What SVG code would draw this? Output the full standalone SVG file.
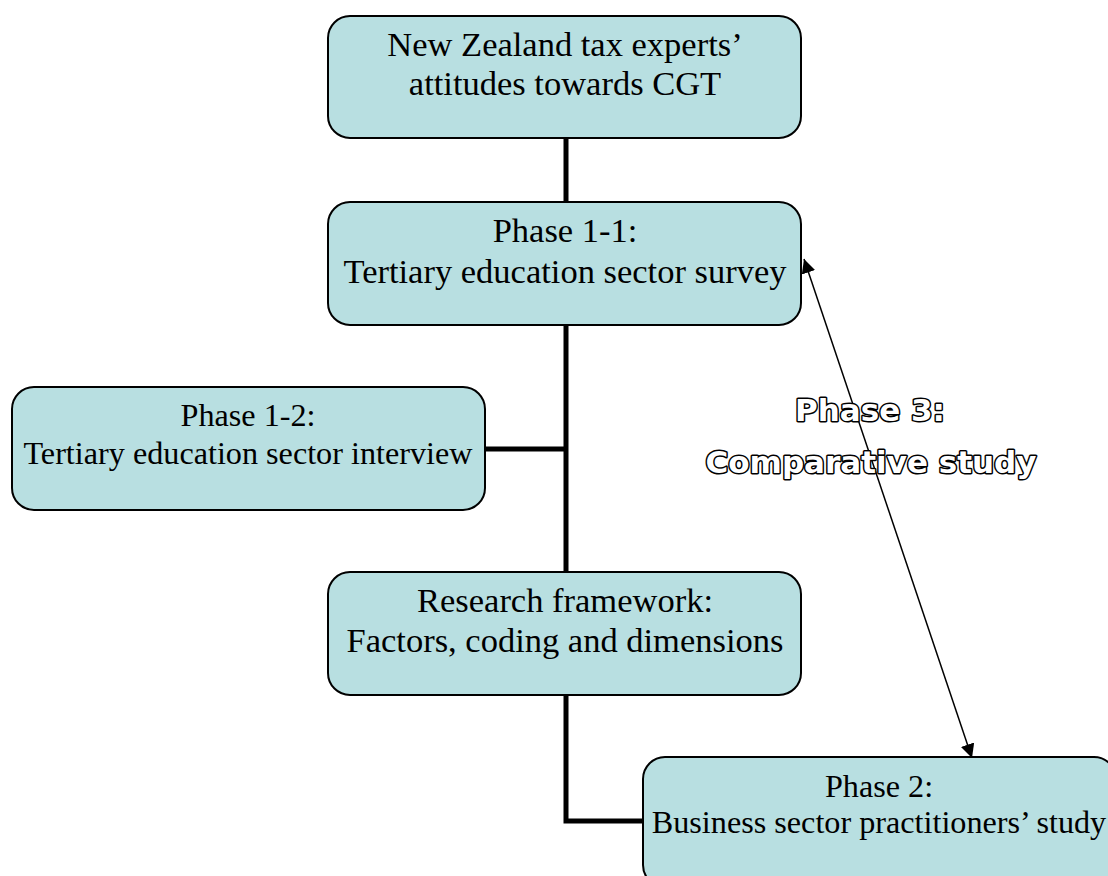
<svg xmlns="http://www.w3.org/2000/svg" width="1108" height="876" viewBox="0 0 1108 876">
<style>
.box{fill:#b8dfe1;stroke:#000;stroke-width:2}
.t{font-family:"Liberation Serif","Times New Roman",serif;font-size:34.5px;fill:#000;text-anchor:middle}
.s{font-size:32.2px}
.conn{fill:none;stroke:#000;stroke-width:5}
.arr{fill:none;stroke:#000;stroke-width:1.5}
.p3{font-family:"DejaVu Sans","Liberation Sans",Arial,sans-serif;font-weight:bold;font-size:31px;fill:#fff;stroke:#000;stroke-width:3;text-anchor:middle;paint-order:stroke;stroke-linejoin:round}
</style>
<defs>
<marker id="ah" viewBox="0 0 10 10" refX="10" refY="5" markerWidth="14" markerHeight="14" markerUnits="userSpaceOnUse" orient="auto-start-reverse">
<path d="M0,0 L10,5 L0,10 z" fill="#000"/>
</marker>
</defs>
<rect width="1108" height="876" fill="#fff"/>
<g id="connectors">
<path class="conn" d="M566,138 V202 M566,325 V572 M485,449 H566 M566,695 V821 H643"/>
<path class="arr" d="M804,259 L972,758" marker-start="url(#ah)" marker-end="url(#ah)"/>
</g>
<g id="n1">
<rect class="box" x="328" y="16" width="473" height="122" rx="22"/>
<text class="t" x="565" y="56">New Zealand tax experts’</text>
<text class="t" x="565" y="95">attitudes towards CGT</text>
</g>
<g id="n2">
<rect class="box" x="328" y="202" width="473" height="123" rx="22"/>
<text class="t" x="565" y="242">Phase 1-1:</text>
<text class="t" x="565" y="283">Tertiary education sector survey</text>
</g>
<g id="n3">
<rect class="box" x="12" y="387" width="473" height="123" rx="22"/>
<text class="t s" x="248" y="426">Phase 1-2:</text>
<text class="t s" x="248" y="464">Tertiary education sector interview</text>
</g>
<g id="n4">
<rect class="box" x="328" y="572" width="473" height="123" rx="22"/>
<text class="t" x="565" y="612">Research framework:</text>
<text class="t" x="565" y="652">Factors, coding and dimensions</text>
</g>
<g id="n5">
<rect class="box" x="643" y="757" width="473" height="130" rx="22"/>
<text class="t s" x="879" y="797">Phase 2:</text>
<text class="t s" x="879" y="833">Business sector practitioners’ study</text>
</g>
<g id="phase3">
<text class="p3" x="870" y="421">Phase 3:</text>
<text class="p3" x="871" y="473">Comparative study</text>
</g>
</svg>
